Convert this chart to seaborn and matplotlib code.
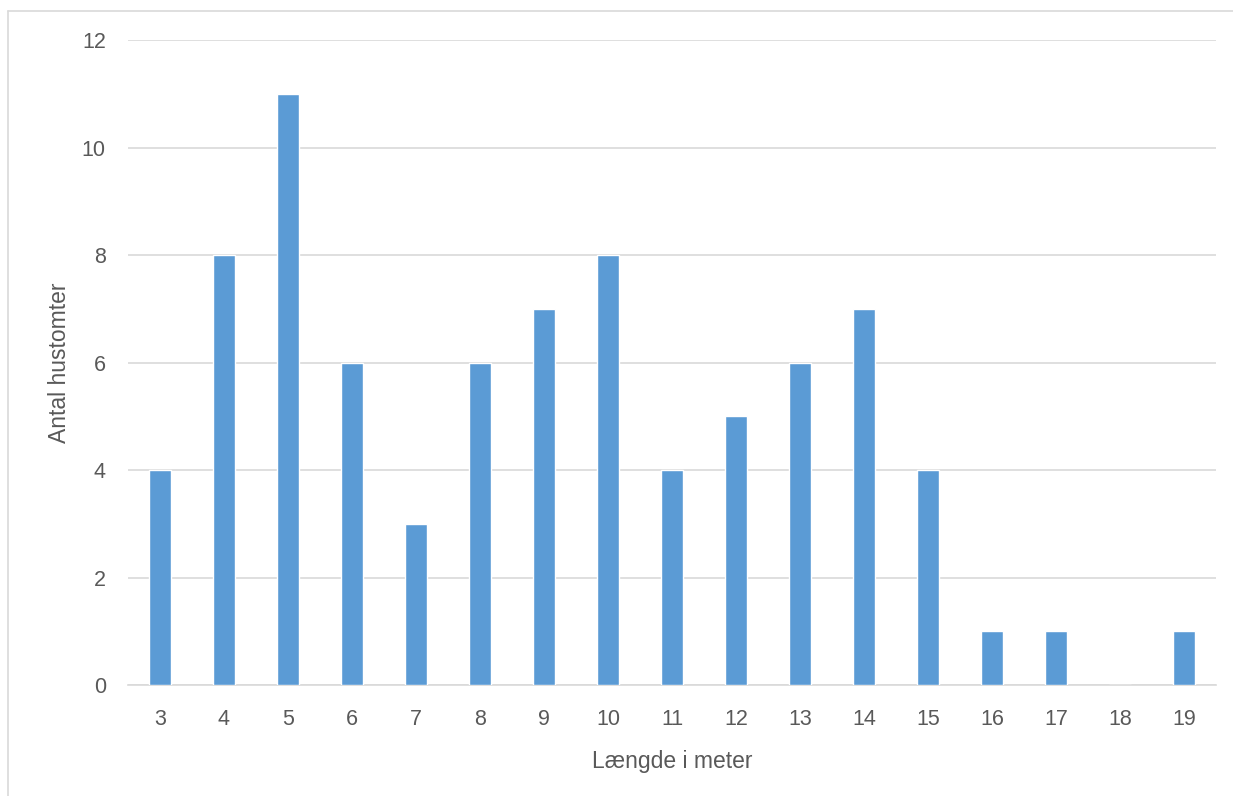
import pandas as pd
import matplotlib
matplotlib.use("Agg")
import matplotlib.pyplot as plt
from matplotlib.lines import Line2D
import seaborn as sns

# data
laengde = [3, 4, 5, 6, 7, 8, 9, 10, 11, 12, 13, 14, 15, 16, 17, 18, 19]
antal = [4, 8, 11, 6, 3, 6, 7, 8, 4, 5, 6, 7, 4, 1, 1, 0, 1]
y_ticks = [0, 2, 4, 6, 8, 10, 12]

df = pd.DataFrame({"Længde": [str(v) for v in laengde], "Antal": antal})

sns.set_theme(style="white")
plt.rcParams['font.family'] = ['Liberation Sans', 'DejaVu Sans']

fig = plt.figure(figsize=(12.33, 7.96), dpi=100)
ax = fig.add_axes([0.1038, 0.1394, 0.8824, 0.8103])

sns.barplot(data=df, x="Længde", y="Antal", color="#5B9BD5", width=0.33,
            saturation=1, ax=ax, zorder=3)

ax.set_ylim(0, 12)
ax.set_yticks(y_ticks)
ax.set_xlim(-0.5, len(laengde) - 0.5)
ax.yaxis.grid(True, color="#D9D9D9", linewidth=1.2, zorder=0)
ax.xaxis.grid(False)
for s in ["top", "right", "left"]:
    ax.spines[s].set_visible(False)
ax.spines["bottom"].set_color("#D9D9D9")
ax.spines["bottom"].set_linewidth(1.2)

ax.tick_params(axis="y", length=0, pad=16, labelsize=15.5, labelcolor="#595959")
ax.tick_params(axis="x", length=0, pad=17, labelsize=15.5, labelcolor="#595959")

ax.set_xlabel("Længde i meter", fontsize=16.5, color="#595959", labelpad=15)
ax.set_ylabel("Antal hustomter", fontsize=16.5, color="#595959", labelpad=8)

# chart frame (light gray border, top and left visible)
fig.add_artist(Line2D([8 / 1233, 8 / 1233], [0, 1 - 11 / 796],
                      transform=fig.transFigure, color="#D9D9D9", linewidth=1.2))
fig.add_artist(Line2D([8 / 1233, 1], [1 - 11 / 796, 1 - 11 / 796],
                      transform=fig.transFigure, color="#D9D9D9", linewidth=1.2))

fig.savefig("out.png", dpi=100)
